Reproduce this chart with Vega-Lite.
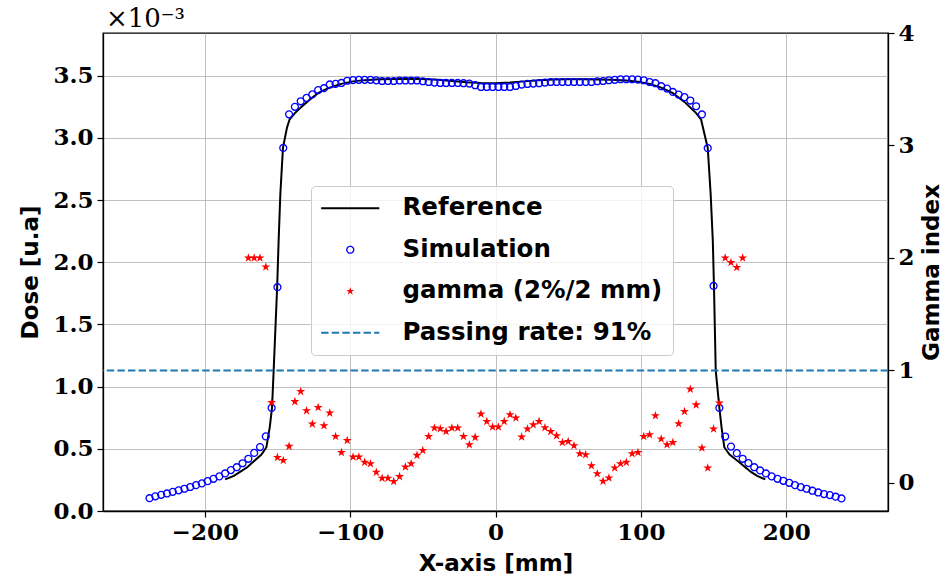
{
  "$schema": "https://vega.github.io/schema/vega-lite/v6.json",
  "width": 785,
  "height": 478,
  "autosize": {"type": "none"},
  "padding": {"left": 103, "top": 33, "right": 62, "bottom": 70},
  "background": "white",
  "title": {"text": "×10⁻³", "anchor": "start", "frame": "group", "font": "DejaVu Serif", "fontSize": 26, "fontWeight": "normal", "offset": 2, "dx": 3, "dy": 12, "color": "black"},
  "datasets": {
    "refdata": [
      {"x": -186, "dose": 0.254}, {"x": -180, "dose": 0.283}, {"x": -176, "dose": 0.312}, {"x": -171, "dose": 0.35},
      {"x": -167, "dose": 0.392}, {"x": -161, "dose": 0.454}, {"x": -157.6, "dose": 0.513}, {"x": -155.3, "dose": 0.673},
      {"x": -153.7, "dose": 0.834}, {"x": -152.6, "dose": 1.13}, {"x": -150.2, "dose": 1.8}, {"x": -149.2, "dose": 2.17},
      {"x": -148, "dose": 2.55}, {"x": -146.2, "dose": 2.92}, {"x": -143.5, "dose": 3.08}, {"x": -141.6, "dose": 3.15},
      {"x": -138, "dose": 3.2}, {"x": -134, "dose": 3.245}, {"x": -130, "dose": 3.285}, {"x": -126, "dose": 3.325},
      {"x": -122, "dose": 3.36}, {"x": -118, "dose": 3.385}, {"x": -114, "dose": 3.405}, {"x": -110, "dose": 3.42},
      {"x": -106, "dose": 3.435}, {"x": -102, "dose": 3.445}, {"x": -98, "dose": 3.455}, {"x": -90, "dose": 3.465},
      {"x": -80, "dose": 3.472}, {"x": -70, "dose": 3.475}, {"x": -60, "dose": 3.477}, {"x": -50, "dose": 3.475},
      {"x": -40, "dose": 3.468}, {"x": -30, "dose": 3.458}, {"x": -20, "dose": 3.448}, {"x": -10, "dose": 3.442},
      {"x": 0, "dose": 3.44}, {"x": 10, "dose": 3.445}, {"x": 20, "dose": 3.455}, {"x": 30, "dose": 3.465},
      {"x": 40, "dose": 3.47}, {"x": 50, "dose": 3.472}, {"x": 60, "dose": 3.472}, {"x": 70, "dose": 3.47},
      {"x": 80, "dose": 3.468}, {"x": 90, "dose": 3.462}, {"x": 98, "dose": 3.452}, {"x": 106, "dose": 3.435},
      {"x": 114, "dose": 3.405}, {"x": 122, "dose": 3.36}, {"x": 130, "dose": 3.29}, {"x": 138, "dose": 3.2},
      {"x": 141.4, "dose": 3.149}, {"x": 146, "dose": 2.92}, {"x": 148, "dose": 2.55}, {"x": 149.5, "dose": 2.17},
      {"x": 150.3, "dose": 1.8}, {"x": 151.5, "dose": 1.13}, {"x": 154, "dose": 0.83}, {"x": 155.5, "dose": 0.673},
      {"x": 157.4, "dose": 0.513}, {"x": 161, "dose": 0.454}, {"x": 167.7, "dose": 0.392}, {"x": 172, "dose": 0.35},
      {"x": 176, "dose": 0.312}, {"x": 180, "dose": 0.283}, {"x": 185.6, "dose": 0.254}
    ],
    "simdata": [
      {"x": -238, "dose": 0.103}, {"x": -234, "dose": 0.118}, {"x": -230, "dose": 0.13}, {"x": -226, "dose": 0.141},
      {"x": -222, "dose": 0.154}, {"x": -218, "dose": 0.166}, {"x": -214, "dose": 0.179}, {"x": -210, "dose": 0.193},
      {"x": -206, "dose": 0.208}, {"x": -202, "dose": 0.222}, {"x": -198, "dose": 0.24}, {"x": -194, "dose": 0.259},
      {"x": -190, "dose": 0.278}, {"x": -186, "dose": 0.302}, {"x": -182, "dose": 0.329}, {"x": -178, "dose": 0.352},
      {"x": -174, "dose": 0.384}, {"x": -170, "dose": 0.42}, {"x": -166, "dose": 0.467}, {"x": -162, "dose": 0.514},
      {"x": -158, "dose": 0.6}, {"x": -154, "dose": 0.829}, {"x": -150, "dose": 1.8}, {"x": -146, "dose": 2.92},
      {"x": -142, "dose": 3.19}, {"x": -138, "dose": 3.25}, {"x": -134, "dose": 3.295}, {"x": -130, "dose": 3.322},
      {"x": -126, "dose": 3.35}, {"x": -122, "dose": 3.385}, {"x": -118, "dose": 3.4}, {"x": -114, "dose": 3.43},
      {"x": -110, "dose": 3.435}, {"x": -106, "dose": 3.442}, {"x": -102, "dose": 3.46}, {"x": -98, "dose": 3.465},
      {"x": -94, "dose": 3.467}, {"x": -90, "dose": 3.467}, {"x": -86, "dose": 3.467}, {"x": -82, "dose": 3.463},
      {"x": -78, "dose": 3.458}, {"x": -74, "dose": 3.458}, {"x": -70, "dose": 3.458}, {"x": -66, "dose": 3.462},
      {"x": -62, "dose": 3.462}, {"x": -58, "dose": 3.462}, {"x": -54, "dose": 3.462}, {"x": -50, "dose": 3.456},
      {"x": -46, "dose": 3.45}, {"x": -42, "dose": 3.445}, {"x": -38, "dose": 3.442}, {"x": -34, "dose": 3.442},
      {"x": -30, "dose": 3.442}, {"x": -26, "dose": 3.442}, {"x": -22, "dose": 3.44}, {"x": -18, "dose": 3.437},
      {"x": -14, "dose": 3.424}, {"x": -10, "dose": 3.41}, {"x": -6, "dose": 3.41}, {"x": -2, "dose": 3.41},
      {"x": 2, "dose": 3.41}, {"x": 6, "dose": 3.41}, {"x": 10, "dose": 3.41}, {"x": 14, "dose": 3.418},
      {"x": 18, "dose": 3.429}, {"x": 22, "dose": 3.434}, {"x": 26, "dose": 3.437}, {"x": 30, "dose": 3.44},
      {"x": 34, "dose": 3.445}, {"x": 38, "dose": 3.45}, {"x": 42, "dose": 3.45}, {"x": 46, "dose": 3.45},
      {"x": 50, "dose": 3.45}, {"x": 54, "dose": 3.45}, {"x": 58, "dose": 3.45}, {"x": 62, "dose": 3.45},
      {"x": 66, "dose": 3.45}, {"x": 70, "dose": 3.456}, {"x": 74, "dose": 3.458}, {"x": 78, "dose": 3.464},
      {"x": 82, "dose": 3.467}, {"x": 86, "dose": 3.472}, {"x": 90, "dose": 3.472}, {"x": 94, "dose": 3.472},
      {"x": 98, "dose": 3.469}, {"x": 102, "dose": 3.464}, {"x": 106, "dose": 3.45}, {"x": 110, "dose": 3.44},
      {"x": 114, "dose": 3.416}, {"x": 118, "dose": 3.397}, {"x": 122, "dose": 3.37}, {"x": 126, "dose": 3.349},
      {"x": 130, "dose": 3.328}, {"x": 134, "dose": 3.301}, {"x": 138, "dose": 3.255}, {"x": 142, "dose": 3.189},
      {"x": 146, "dose": 2.918}, {"x": 150, "dose": 1.81}, {"x": 154, "dose": 0.829}, {"x": 158, "dose": 0.599},
      {"x": 162, "dose": 0.518}, {"x": 166, "dose": 0.465}, {"x": 170, "dose": 0.42}, {"x": 174, "dose": 0.385},
      {"x": 178, "dose": 0.352}, {"x": 182, "dose": 0.326}, {"x": 186, "dose": 0.302}, {"x": 190, "dose": 0.278},
      {"x": 194, "dose": 0.259}, {"x": 198, "dose": 0.243}, {"x": 202, "dose": 0.227}, {"x": 206, "dose": 0.208},
      {"x": 210, "dose": 0.192}, {"x": 214, "dose": 0.179}, {"x": 218, "dose": 0.163}, {"x": 222, "dose": 0.149},
      {"x": 226, "dose": 0.136}, {"x": 230, "dose": 0.128}, {"x": 234, "dose": 0.115}, {"x": 238, "dose": 0.101}
    ],
    "gammadata": [
      {"x": -170, "g": 2.0}, {"x": -166, "g": 2.0}, {"x": -162, "g": 2.0}, {"x": -158, "g": 1.92},
      {"x": -154, "g": 0.715}, {"x": -150, "g": 0.227}, {"x": -146, "g": 0.2}, {"x": -142, "g": 0.325},
      {"x": -138, "g": 0.723}, {"x": -134, "g": 0.812}, {"x": -130, "g": 0.641}, {"x": -126, "g": 0.523},
      {"x": -122, "g": 0.67}, {"x": -118, "g": 0.508}, {"x": -114, "g": 0.621}, {"x": -110, "g": 0.413},
      {"x": -106, "g": 0.271}, {"x": -102, "g": 0.378}, {"x": -98, "g": 0.23}, {"x": -94, "g": 0.23},
      {"x": -90, "g": 0.183}, {"x": -86, "g": 0.171}, {"x": -82, "g": 0.094}, {"x": -78, "g": 0.041},
      {"x": -74, "g": 0.041}, {"x": -70, "g": 0.012}, {"x": -66, "g": 0.056}, {"x": -62, "g": 0.142},
      {"x": -58, "g": 0.171}, {"x": -54, "g": 0.245}, {"x": -50, "g": 0.289}, {"x": -46, "g": 0.413},
      {"x": -42, "g": 0.488}, {"x": -38, "g": 0.482}, {"x": -34, "g": 0.458}, {"x": -30, "g": 0.488},
      {"x": -26, "g": 0.488}, {"x": -22, "g": 0.413}, {"x": -18, "g": 0.34}, {"x": -14, "g": 0.405},
      {"x": -10, "g": 0.612}, {"x": -6, "g": 0.547}, {"x": -2, "g": 0.497}, {"x": 2, "g": 0.497},
      {"x": 6, "g": 0.547}, {"x": 10, "g": 0.606}, {"x": 14, "g": 0.577}, {"x": 18, "g": 0.408},
      {"x": 22, "g": 0.479}, {"x": 26, "g": 0.517}, {"x": 30, "g": 0.547}, {"x": 34, "g": 0.491},
      {"x": 38, "g": 0.458}, {"x": 42, "g": 0.42}, {"x": 46, "g": 0.36}, {"x": 50, "g": 0.369},
      {"x": 54, "g": 0.331}, {"x": 58, "g": 0.26}, {"x": 62, "g": 0.251}, {"x": 66, "g": 0.153},
      {"x": 70, "g": 0.082}, {"x": 74, "g": 0.014}, {"x": 78, "g": 0.044}, {"x": 82, "g": 0.133},
      {"x": 86, "g": 0.171}, {"x": 90, "g": 0.183}, {"x": 94, "g": 0.26}, {"x": 98, "g": 0.271},
      {"x": 102, "g": 0.413}, {"x": 106, "g": 0.428}, {"x": 110, "g": 0.597}, {"x": 114, "g": 0.39},
      {"x": 118, "g": 0.34}, {"x": 122, "g": 0.36}, {"x": 126, "g": 0.526}, {"x": 130, "g": 0.635},
      {"x": 134, "g": 0.833}, {"x": 138, "g": 0.694}, {"x": 142, "g": 0.31}, {"x": 146, "g": 0.133},
      {"x": 150, "g": 0.479}, {"x": 154, "g": 0.71}, {"x": 158, "g": 2.0}, {"x": 162, "g": 1.96},
      {"x": 166, "g": 1.915}, {"x": 170, "g": 2.0}
    ],
    "limitdata": [{"g": 1}]
  },
  "config": {
    "view": {"stroke": "black", "strokeWidth": 1.3},
    "axis": {
      "labelFont": "DejaVu Serif", "labelFontWeight": "bold", "labelFontSize": 23, "labelColor": "black",
      "titleFont": "DejaVu Sans", "titleFontWeight": "bold", "titleFontSize": 23, "titleColor": "black",
      "domainColor": "black", "domainWidth": 1.3, "tickColor": "black", "tickSize": 6, "tickWidth": 1.2,
      "gridColor": "#b0b0b0", "gridWidth": 0.8, "labelPadding": 4
    },
    "legend": {
      "labelFont": "DejaVu Sans", "labelFontWeight": "bold", "labelFontSize": 24.5, "labelColor": "black", "labelLimit": 500
    }
  },
  "resolve": {"scale": {"y": "independent"}},
  "layer": [
    {
      "data": {"name": "refdata"},
      "mark": {"type": "line", "strokeWidth": 2},
      "encoding": {
        "x": {"field": "x", "type": "quantitative", "scale": {"domain": [-270, 270], "nice": false, "zero": false},
          "axis": {"title": "X-axis [mm]", "orient": "bottom", "values": [-200, -100, 0, 100, 200], "format": "d", "grid": true, "titlePadding": 8}},
        "y": {"field": "dose", "type": "quantitative", "scale": {"domain": [0, 3.844], "nice": false, "zero": false},
          "axis": {"title": "Dose [u.a]", "orient": "left", "values": [0, 0.5, 1, 1.5, 2, 2.5, 3, 3.5], "format": ".1f", "grid": true, "titlePadding": 10}},
        "color": {"datum": "Reference", "type": "nominal",
          "scale": {"domain": ["Reference", "Simulation", "gamma (2%/2 mm)", "Passing rate: 91%"], "range": ["black", "#0000ff", "#ff0000", "#1f77b4"]},
          "legend": {
            "title": null, "orient": "none", "legendX": 208, "legendY": 153,
            "padding": 10, "rowPadding": 16.5, "symbolOffset": 17, "labelOffset": 40, "symbolSize": 36,
            "strokeColor": "#cccccc", "fillColor": "rgba(255,255,255,0.8)", "cornerRadius": 4,
            "encode": {
              "symbols": {"update": {
                "shape": {"signal": "datum.value === 'Simulation' ? 'circle' : datum.value === 'gamma (2%/2 mm)' ? 'M0,-1L0.2245,-0.309L0.951,-0.309L0.3633,0.118L0.5878,0.809L0,0.382L-0.5878,0.809L-0.3633,0.118L-0.951,-0.309L-0.2245,-0.309Z' : 'M-9.7,0H9.7'"},
                "size": {"signal": "datum.value === 'gamma (2%/2 mm)' ? 70 : datum.value === 'Simulation' ? 48 : 36"},
                "fill": {"signal": "datum.value === 'gamma (2%/2 mm)' ? '#ff0000' : 'transparent'"},
                "fillOpacity": {"signal": "datum.value === 'gamma (2%/2 mm)' ? 1 : 0"},
                "stroke": {"signal": "datum.value === 'Reference' ? 'black' : datum.value === 'Simulation' ? '#0000ff' : datum.value === 'gamma (2%/2 mm)' ? '#ff0000' : '#1f77b4'"},
                "strokeWidth": {"signal": "datum.value === 'Simulation' ? 1.3 : datum.value === 'gamma (2%/2 mm)' ? 0 : 2"},
                "strokeDash": {"signal": "datum.value === 'Passing rate: 91%' ? [7.4, 3.2] : [1, 0]"},
                "opacity": {"value": 1}
              }}
            }
          }
        }
      }
    },
    {
      "data": {"name": "simdata"},
      "mark": {"type": "point", "shape": "circle", "filled": false, "size": 48, "strokeWidth": 1.3, "opacity": 1},
      "encoding": {
        "x": {"field": "x", "type": "quantitative"},
        "y": {"field": "dose", "type": "quantitative", "scale": {"domain": [0, 3.844], "nice": false, "zero": false}, "axis": null},
        "color": {"datum": "Simulation", "type": "nominal"}
      }
    },
    {
      "data": {"name": "gammadata"},
      "mark": {"type": "point", "shape": "M0,-1L0.2245,-0.309L0.951,-0.309L0.3633,0.118L0.5878,0.809L0,0.382L-0.5878,0.809L-0.3633,0.118L-0.951,-0.309L-0.2245,-0.309Z", "filled": true, "size": 90, "opacity": 1},
      "encoding": {
        "x": {"field": "x", "type": "quantitative"},
        "y": {"field": "g", "type": "quantitative", "scale": {"domain": [-0.25, 4], "nice": false, "zero": false},
          "axis": {"title": "Gamma index", "orient": "right", "grid": false, "values": [0, 1, 2, 3, 4], "format": "d", "titleAngle": 270, "titleBaseline": "top", "titlePadding": 6}},
        "color": {"datum": "gamma (2%/2 mm)", "type": "nominal"}
      }
    },
    {
      "data": {"name": "limitdata"},
      "mark": {"type": "rule", "strokeWidth": 2, "strokeDash": [7.4, 3.2]},
      "encoding": {
        "y": {"field": "g", "type": "quantitative", "scale": {"domain": [-0.25, 4], "nice": false, "zero": false}, "axis": null},
        "color": {"datum": "Passing rate: 91%", "type": "nominal"}
      }
    }
  ]
}
